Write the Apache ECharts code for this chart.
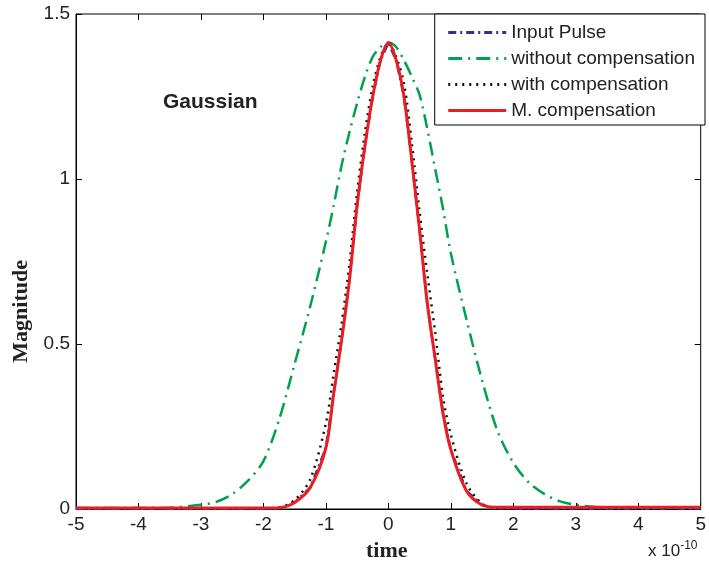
<!DOCTYPE html>
<html>
<head>
<meta charset="utf-8">
<script src="https://cdn.jsdelivr.net/npm/echarts@6/dist/echarts.min.js"></script>
<style>
  html, body { margin: 0; padding: 0; background: #fff; }
  #chart { width: 709px; height: 569px; }
</style>
</head>
<body>
<div id="chart"></div>
<script>
// time axis in units of 1e-10 s
var times = [-5, -4, -3.5, -3, -2.75, -2.5, -2.25, -2, -1.75, -1.5, -1.25, -1, -0.875, -0.75, -0.625, -0.5, -0.375, -0.25, -0.125, 0,
  0.125, 0.25, 0.375, 0.5, 0.625, 0.75, 0.875, 1, 1.25, 1.5, 1.75, 2, 2.25, 2.5, 2.75, 3, 3.5, 4, 5];

var inputPulse = [0, 0, 0, 0, 0, 0, 0, 0, 0.003, 0.02, 0.065, 0.185, 0.35, 0.51, 0.69, 0.92, 1.10, 1.25, 1.36, 1.413,
  1.36, 1.25, 1.055, 0.845, 0.62, 0.455, 0.29, 0.18, 0.055, 0.012, 0.002, 0, 0, 0, 0, 0, 0, 0, 0];

var withoutComp = [0.003, 0.003, 0.004, 0.013, 0.022, 0.045, 0.085, 0.145, 0.27, 0.44, 0.615, 0.81, 0.92, 1.04, 1.14, 1.23, 1.31, 1.37, 1.40, 1.414,
  1.40, 1.36, 1.31, 1.255, 1.15, 1.03, 0.91, 0.775, 0.575, 0.39, 0.235, 0.14, 0.08, 0.045, 0.023, 0.013, 0.004, 0.004, 0.004];

var withComp = [0.002, 0.002, 0.002, 0.002, 0.002, 0.002, 0.002, 0.002, 0.004, 0.027, 0.09, 0.26, 0.41, 0.56, 0.74, 0.96, 1.14, 1.28, 1.37, 1.413,
  1.37, 1.29, 1.11, 0.90, 0.71, 0.535, 0.34, 0.225, 0.078, 0.016, 0.002, 0.002, 0.002, 0.002, 0.002, 0.002, 0.002, 0.002, 0.002];

var mComp = [0.003, 0.003, 0.003, 0.003, 0.003, 0.003, 0.003, 0.003, 0.004, 0.02, 0.065, 0.185, 0.35, 0.51, 0.69, 0.92, 1.10, 1.25, 1.36, 1.413,
  1.36, 1.25, 1.055, 0.845, 0.62, 0.455, 0.29, 0.18, 0.055, 0.012, 0.005, 0.005, 0.005, 0.005, 0.005, 0.005, 0.005, 0.005, 0.005];

function pairs(values) {
  return times.map(function (t, i) { return [t, values[i]]; });
}

var chart = echarts.init(document.getElementById("chart"));

var tickFont = { fontFamily: "Liberation Sans, Arial, sans-serif", fontSize: 19, color: "#222" };

var option = {
  animation: false,
  grid: { left: 76, right: 4, top: 14, bottom: 60, show: true, borderColor: "#000", borderWidth: 1 },
  legend: {
    right: 4,
    top: 14,
    orient: "vertical",
    itemWidth: 58,
    itemHeight: 16,
    itemGap: 7,
    padding: [9, 10, 5, 12],
    borderColor: "#000",
    borderWidth: 1,
    backgroundColor: "#fff",
    itemStyle: { opacity: 0 },
    lineStyle: { width: 3 },
    textStyle: { fontFamily: "Liberation Sans, Arial, sans-serif", fontSize: 19, color: "#222" },
    data: ["Input Pulse", "without compensation", "with compensation", "M. compensation"]
  },
  xAxis: [
    {
      type: "value", min: -5, max: 5, interval: 1,
      axisLine: { onZero: false, lineStyle: { color: "#000" } },
      axisTick: { inside: true, length: 6, lineStyle: { color: "#000" } },
      axisLabel: Object.assign({ margin: 6 }, tickFont),
      splitLine: { show: false }
    },
    {
      type: "value", position: "top", min: -5, max: 5, interval: 1,
      axisLine: { show: false, onZero: false },
      axisTick: { inside: true, length: 6, lineStyle: { color: "#000" } },
      axisLabel: { show: false },
      splitLine: { show: false }
    }
  ],
  yAxis: [
    {
      type: "value", min: 0, max: 1.5, interval: 0.5,
      axisLine: { show: true, onZero: false, lineStyle: { color: "#000" } },
      axisTick: { show: true, inside: true, length: 6, lineStyle: { color: "#000" } },
      axisLabel: Object.assign({ margin: 6 }, tickFont),
      splitLine: { show: false }
    },
    {
      type: "value", position: "right", min: 0, max: 1.5, interval: 0.5,
      axisLine: { show: false, onZero: false },
      axisTick: { show: true, inside: true, length: 6, lineStyle: { color: "#000" } },
      axisLabel: { show: false },
      splitLine: { show: false }
    }
  ],
  graphic: [
    {
      type: "text", left: 163, top: 92,
      style: { text: "Gaussian", font: "bold 21px Liberation Sans, Arial, sans-serif", fill: "#222" }
    },
    {
      type: "text", left: 366, top: 540,
      style: { text: "time", font: "bold 22px Liberation Serif, Times New Roman, serif", fill: "#222" }
    },
    {
      type: "text", left: 10, top: 260, rotation: Math.PI / 2,
      style: { text: "Magnitude", font: "bold 22px Liberation Serif, Times New Roman, serif", fill: "#222" }
    },
    {
      type: "text", left: 648, top: 540,
      style: {
        text: "x 10{sup|-10}",
        font: "17px Liberation Sans, Arial, sans-serif",
        fill: "#222",
        rich: { sup: { fontSize: 12, fontFamily: "Liberation Sans, Arial, sans-serif", fill: "#222", padding: [0, 0, 10, 0] } }
      }
    }
  ],
  series: [
    {
      name: "Input Pulse", type: "line", symbol: "none",
      data: pairs(inputPulse),
      itemStyle: { color: "#2e3192" },
      lineStyle: { color: "#2e3192", width: 2.5, type: [8, 4, 2, 4] }
    },
    {
      name: "without compensation", type: "line", symbol: "none", smooth: 0.3,
      data: pairs(withoutComp),
      itemStyle: { color: "#00a14b" },
      lineStyle: { color: "#00a14b", width: 2.5, type: [14, 6, 2, 6] }
    },
    {
      name: "with compensation", type: "line", symbol: "none", smooth: 0.3,
      data: pairs(withComp),
      itemStyle: { color: "#111" },
      lineStyle: { color: "#111", width: 2.5, type: [2, 5] }
    },
    {
      name: "M. compensation", type: "line", symbol: "none", smooth: 0.3,
      data: pairs(mComp),
      itemStyle: { color: "#ec1c24" },
      lineStyle: { color: "#ec1c24", width: 3 }
    }
  ]
};

option && chart.setOption(option);
</script>
</body>
</html>
